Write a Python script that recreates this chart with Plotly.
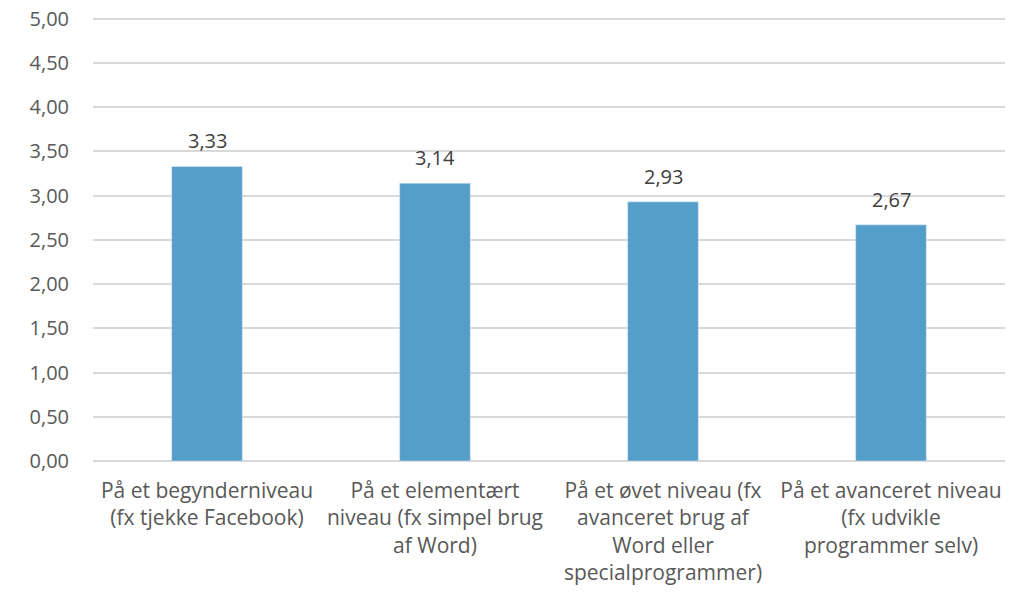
import plotly.graph_objects as go

kategorier = [
    "På et begynderniveau<br>(fx tjekke Facebook)",
    "På et elementært<br>niveau (fx simpel brug<br>af Word)",
    "På et øvet niveau (fx<br>avanceret brug af<br>Word eller<br>specialprogrammer)",
    "På et avanceret niveau<br>(fx udvikle<br>programmer selv)",
]
gennemsnit = [3.33, 3.14, 2.93, 2.67]

fig = go.Figure()
fig.add_trace(go.Bar(
    x=kategorier, y=gennemsnit,
    marker_color="#559ECA", width=0.31,
))

# dataetiketter over søjlerne
for k, v in zip(kategorier, gennemsnit):
    fig.add_annotation(
        x=k, y=v, text=f"{v:.2f}".replace(".", ","),
        showarrow=False, yanchor="bottom", yshift=10,
        font=dict(size=20, color="#404040"),
    )

fig.update_layout(
    width=1015, height=593,
    margin=dict(l=93, r=10, t=17, b=132),
    plot_bgcolor="white", paper_bgcolor="white",
    separators=", ",
    font=dict(family="Open Sans, sans-serif", size=20, color="#595959"),
    showlegend=False,
)
# lidt luft over 5,00 så den øverste gitterlinje tegnes
fig.update_yaxes(
    range=[0, 5.02], dtick=0.5, tickformat=".2f", automargin=False,
    showgrid=True, gridcolor="#D9D9D9", gridwidth=1.5,
    zeroline=True, zerolinecolor="#D9D9D9", zerolinewidth=1.5,
    ticks="", ticklabelstandoff=23,
)
fig.update_xaxes(tickangle=0, showline=False, ticks="", automargin=False,
                 ticklabelstandoff=15, tickfont=dict(size=21))

fig.write_html("out.html", config={"displayModeBar": False},
               post_script="document.body.style.margin='0';")
